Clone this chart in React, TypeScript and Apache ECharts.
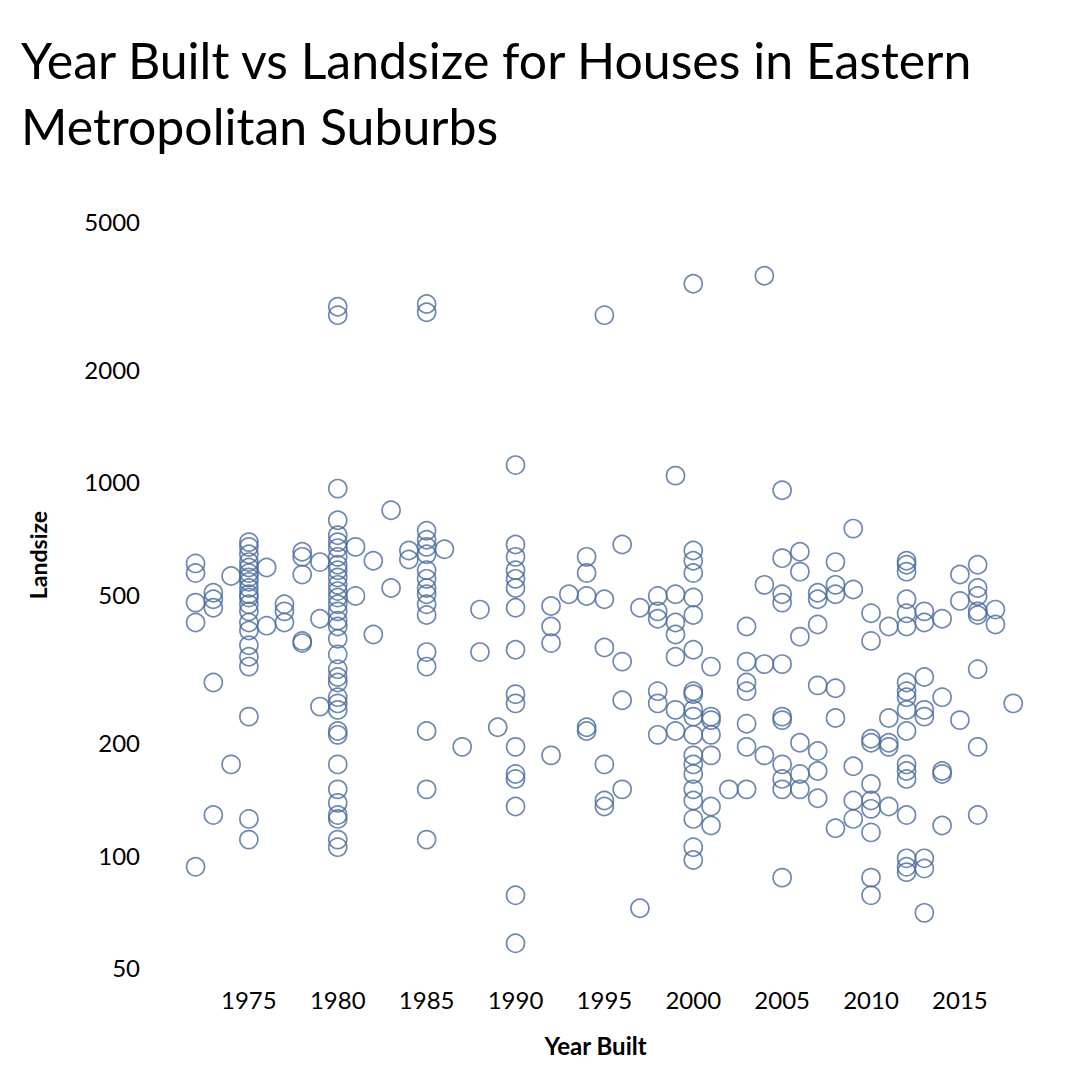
import React, { useRef, useEffect } from 'react';
import * as echarts from 'echarts';

// build years (x) and the landsize readings for each year
const years = [1972, 1973, 1974, 1975, 1976, 1977, 1978, 1979, 1980, 1981, 1982, 1983, 1984, 1985, 1986, 1987, 1988, 1989, 1990, 1992, 1993, 1994, 1995, 1996, 1997, 1998, 1999, 2000, 2001, 2002, 2003, 2004, 2005, 2006, 2007, 2008, 2009, 2010, 2011, 2012, 2013, 2014, 2015, 2016, 2017, 2018];

const landsizes = [
  [605, 570, 475, 420, 93],
  [505, 485, 460, 290, 128],
  [560, 175],
  [690, 670, 640, 610, 590, 570, 555, 540, 520, 500, 490, 470, 450, 420, 400, 365, 340, 320, 235, 125, 110],
  [590, 412],
  [470, 450, 420],
  [650, 630, 565, 375, 370],
  [610, 430, 250],
  [960, 790, 720, 690, 665, 630, 600, 580, 555, 530, 510, 490, 470, 450, 425, 410, 380, 345, 315, 300, 290, 265, 255, 245, 215, 210, 175, 150, 138, 128, 125, 110, 105, 2950, 2800],
  [670, 495],
  [615, 390],
  [840, 520],
  [655, 620],
  [3000, 2850, 740, 700, 670, 640, 580, 550, 520, 500, 470, 440, 350, 320, 215, 150, 110],
  [660],
  [195],
  [455, 350],
  [220],
  [1110, 680, 630, 580, 550, 520, 460, 355, 270, 255, 195, 165, 160, 135, 78, 58],
  [465, 410, 370, 185],
  [500],
  [630, 570, 495, 220, 215],
  [2800, 485, 360, 175, 140, 135],
  [680, 330, 260, 150],
  [460, 72],
  [495, 450, 430, 275, 255, 210],
  [1040, 500, 420, 390, 340, 245, 215],
  [3400, 655, 615, 570, 490, 440, 355, 275, 270, 245, 235, 210, 185, 175, 165, 150, 140, 125, 105, 97],
  [320, 235, 230, 210, 185, 135, 120],
  [150],
  [410, 330, 290, 275, 225, 195, 150],
  [3570, 530, 325, 185],
  [950, 625, 500, 475, 325, 235, 230, 175, 160, 150, 87],
  [650, 575, 385, 200, 165, 150],
  [505, 485, 415, 285, 190, 168, 142],
  [610, 530, 500, 280, 233, 118],
  [750, 515, 173, 140, 125],
  [445, 375, 205, 200, 155, 140, 133, 115, 87, 78],
  [410, 233, 200, 195, 135],
  [615, 600, 575, 485, 445, 410, 290, 275, 265, 245, 215, 175, 168, 160, 128, 98, 93, 90],
  [450, 420, 300, 245, 235, 98, 92, 70],
  [430, 265, 168, 165, 120],
  [565, 480, 230],
  [600, 520, 495, 450, 440, 315, 195, 128],
  [455, 415],
  [255],
];

const yTicks = [50, 100, 200, 500, 1000, 2000, 5000];

const App: React.FC = () => {
  const ref = useRef<HTMLDivElement>(null);

  useEffect(() => {
    if (!ref.current) return;
    const chart = echarts.init(ref.current, null, { renderer: 'svg' });
    const points: number[][] = [];
    years.forEach((y, i) => landsizes[i].forEach(v => points.push([y, Math.log10(v)])));
    const font = 'Lato, "Open Sans", sans-serif';

    chart.setOption({
      animation: false,
      title: {
        text: 'Year Built vs Landsize for Houses in Eastern\nMetropolitan Suburbs',
        left: 8,
        top: 14,
        textStyle: { fontFamily: font, fontSize: 50, fontWeight: 'normal', color: '#000', lineHeight: 66 },
      },
      grid: { left: 152, right: 41, top: 192, bottom: 97 },
      graphic: [{
        type: 'text',
        x: 30,
        y: 547,
        rotation: Math.PI / 2,
        style: { text: 'Landsize', fontFamily: font, fontSize: 23, fontWeight: 'bold', fill: '#000', align: 'center', verticalAlign: 'middle' },
      }],
      xAxis: {
        type: 'value',
        min: 1970,
        max: 2019,
        interval: 5,
        name: 'Year Built',
        nameLocation: 'middle',
        nameGap: 58,
        nameTextStyle: { fontFamily: font, fontSize: 24, fontWeight: 'bold', color: '#000' },
        axisLine: { show: false },
        axisTick: { show: false },
        splitLine: { show: false },
        axisLabel: {
          fontFamily: font, fontSize: 24, color: '#000', margin: 12,
          formatter: (v: number) => (v >= 1975 && v <= 2015 ? String(v) : ''),
        },
      },
      yAxis: {
        type: 'value',
        min: Math.log10(47.7),
        max: Math.log10(5700),
        axisLine: { show: false },
        axisTick: { show: false },
        splitLine: { show: false },
        axisLabel: {
          fontFamily: font, fontSize: 24, color: '#000', margin: 20,
          customValues: yTicks.map(t => Math.log10(t)),
          formatter: (v: number) => String(Math.round(Math.pow(10, v))),
        },
      },
      series: [{
        type: 'scatter',
        data: points,
        symbol: 'circle',
        symbolSize: 18,
        itemStyle: { color: 'rgba(255,255,255,0)', borderColor: '#4a6c9c', borderWidth: 1.7 },
      }],
    });
    return () => chart.dispose();
  }, []);

  return <div ref={ref} style={{ width: 1064, height: 1064 }} />;
};

export default App;
